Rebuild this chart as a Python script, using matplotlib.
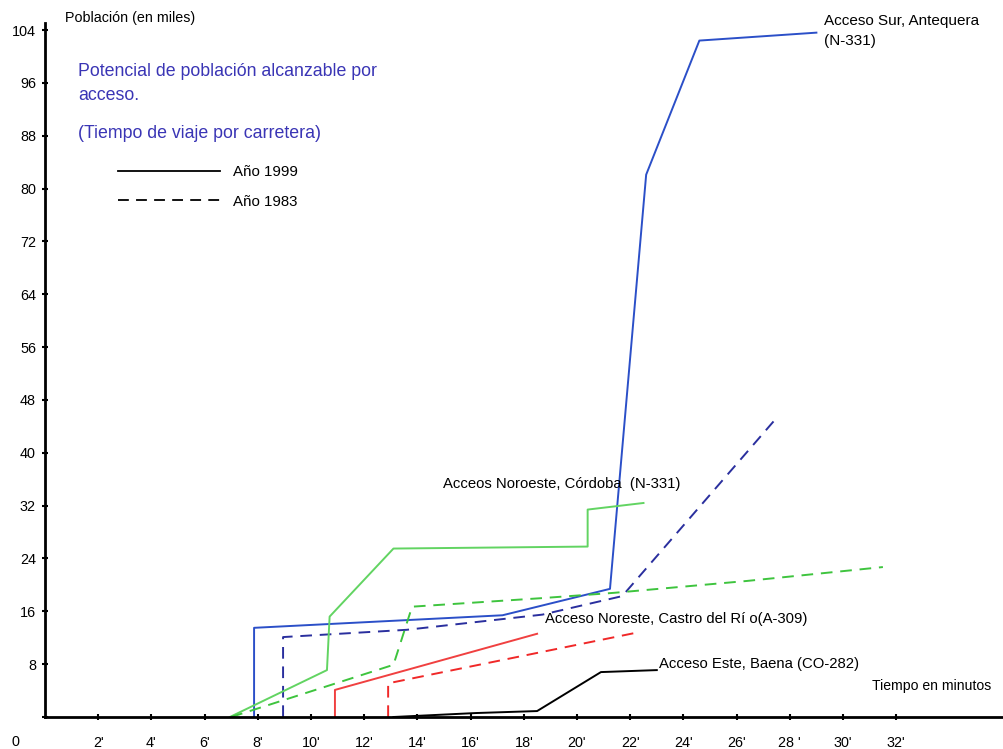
import matplotlib.pyplot as plt
from matplotlib.lines import Line2D

plt.rcParams['font.family'] = ['Liberation Sans', 'DejaVu Sans']

# minutos / poblacion (miles)
sur_99_x = [7.86, 7.86, 17.2, 21.24, 22.6, 24.6, 29.0]
sur_99_y = [0, 13.5, 15.4, 19.4, 82.1, 102.4, 103.6]
sur_83_x = [8.95, 8.95, 13.6, 18.7, 21.7, 27.4]
sur_83_y = [0, 12.1, 13.2, 15.5, 18.3, 44.8]

cor_99_x = [6.95, 10.6, 10.7, 13.1, 20.4, 20.4, 22.5]
cor_99_y = [0, 7.1, 15.2, 25.5, 25.8, 31.4, 32.4]
cor_83_x = [7.0, 13.1, 13.8, 18.7, 21.4, 26.4, 31.5]
cor_83_y = [0, 7.9, 16.7, 18.0, 18.8, 20.6, 22.7]

cas_99_x = [10.9, 10.9, 18.5]
cas_99_y = [0, 4.1, 12.6]
cas_83_x = [12.9, 12.9, 22.4]
cas_83_y = [0, 5.1, 12.9]

bae_99_x = [13.1, 16.2, 18.5, 20.9, 23.0]
bae_99_y = [0, 0.6, 0.9, 6.8, 7.1]

yticks = list(range(0, 105, 8))
xticks = list(range(2, 33, 2))
xticklabels = ["2'", "4'", "6'", "8'", "10'", "12'", "14'", "16'", "18'",
               "20'", "22'", "24'", "26'", "28 '", "30'", "32'"]

W, H = 1004, 749
fig = plt.figure(figsize=(W / 100, H / 100), dpi=100)
ax = fig.add_axes([45 / W, (H - 717) / H, (W - 45) / W, 693.6 / H])
ax.set_xlim(0, (W - 45) / 26.6)
ax.set_ylim(0, 105)

dash = (0, (6, 4))
ax.plot(sur_99_x, sur_99_y, color='#2b4fc8', lw=1.4)
ax.plot(sur_83_x, sur_83_y, color='#2a2f9e', lw=1.4, ls=dash)
ax.plot(cor_99_x, cor_99_y, color='#62d462', lw=1.4)
ax.plot(cor_83_x, cor_83_y, color='#3ec43e', lw=1.4, ls=dash)
ax.plot(cas_99_x, cas_99_y, color='#f04040', lw=1.4)
ax.plot(cas_83_x, cas_83_y, color='#f02828', lw=1.4, ls=dash)
ax.plot(bae_99_x, bae_99_y, color='black', lw=1.4)

for s in ['top', 'right']:
    ax.spines[s].set_visible(False)
for s in ['left', 'bottom']:
    ax.spines[s].set_linewidth(2)

ax.set_yticks(yticks)
ax.set_yticklabels([str(v) if v else '' for v in yticks])
ax.set_xticks(xticks)
ax.set_xticklabels(xticklabels)
ax.tick_params(axis='both', direction='inout', length=5, width=1.5, labelsize=10.4)
ax.tick_params(axis='y', pad=4)
ax.tick_params(axis='x', pad=11)

# textos en pixeles de la figura
def ftext(px, py, s, **kw):
    fig.text(px / W, 1 - py / H, s, va='center', ha='left', **kw)

ftext(65, 18, 'Población (en miles)', fontsize=10.3)
ftext(12, 742, '0', fontsize=10.4)
blue_txt = '#3a35b5'
ftext(78, 72, 'Potencial de población alcanzable por', fontsize=12.8, color=blue_txt)
ftext(78, 95, 'acceso.', fontsize=12.8, color=blue_txt)
ftext(78, 133, '(Tiempo de viaje por carretera)', fontsize=12.8, color=blue_txt)

handles = [Line2D([], [], color='black', lw=1.3),
           Line2D([], [], color='black', lw=1.3, ls=dash)]
fig.legend(handles, ['Año 1999', 'Año 1983'], loc='upper left',
           bbox_to_anchor=(104 / W, 1 - 152 / H), frameon=False,
           fontsize=10.8, handlelength=6.8, handletextpad=0.9, labelspacing=1.0)

ax.text(29.3, 105.3, 'Acceso Sur, Antequera', fontsize=11, va='center', clip_on=False)
ax.text(29.3, 102.3, '(N-331)', fontsize=11, va='center', clip_on=False)
ax.text(14.96, 35.3, 'Acceos Noroeste, Córdoba  (N-331)', fontsize=10.7, va='center')
ax.text(18.8, 14.85, 'Acceso Noreste, Castro del Rí o(A-309)', fontsize=10.7, va='center')
ax.text(23.1, 8.0, 'Acceso Este, Baena (CO-282)', fontsize=10.7, va='center')
ax.text(31.1, 4.7, 'Tiempo en minutos', fontsize=10.1, va='center')

fig.savefig('out.png', dpi=100)
